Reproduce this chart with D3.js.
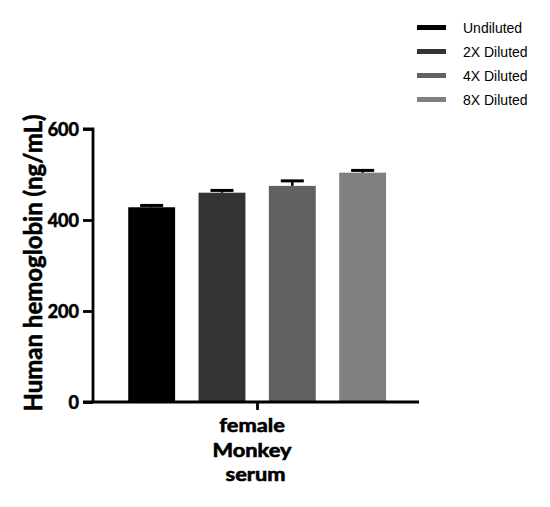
<!DOCTYPE html>
<html><head><meta charset="utf-8">
<script src="https://cdn.jsdelivr.net/npm/d3@7"></script>
<style>body{margin:0;background:#fff}svg{display:block}</style>
</head><body>
<script>
const series = ["Undiluted", "2X Diluted", "4X Diluted", "8X Diluted"];
const means = [428, 460, 475, 504];
const errors = [4, 5, 11, 5];
const colors = ["#000000", "#333333", "#616161", "#808080"];
const yTicks = [0, 200, 400, 600];
const categoryLines = ["female", "Monkey", "serum"];
const yLabel = "Human hemoglobin (ng/mL)";

(function () {
const W = 550, H = 507;
const svg = d3.select("body").append("svg").attr("width", W).attr("height", H);
const pLeft = 93, pRight = 419, pTop = 129, pBottom = 402;
const font = "Lato, 'DejaVu Sans', sans-serif";

const y = d3.scaleLinear().domain([0, 600]).range([pBottom, pTop]);
const x = d3.scaleBand().domain(series).range([116.5, 397.8]).paddingInner(1 / 3).paddingOuter(1 / 6);

const g = svg.append("g");
g.selectAll("rect.bar").data(series).join("rect")
  .attr("x", d => x(d)).attr("width", x.bandwidth())
  .attr("y", (d, i) => y(means[i])).attr("height", (d, i) => y(0) - y(means[i]))
  .attr("fill", (d, i) => colors[i]);

g.selectAll("line.err").data(series).join("line")
  .attr("x1", d => x(d) + x.bandwidth() / 2).attr("x2", d => x(d) + x.bandwidth() / 2)
  .attr("y1", (d, i) => y(means[i])).attr("y2", (d, i) => y(means[i] + errors[i]))
  .attr("stroke", "#000").attr("stroke-width", 2.5);
g.selectAll("line.cap").data(series).join("line")
  .attr("x1", d => x(d) + x.bandwidth() / 2 - 11.5).attr("x2", d => x(d) + x.bandwidth() / 2 + 11.5)
  .attr("y1", (d, i) => y(means[i] + errors[i])).attr("y2", (d, i) => y(means[i] + errors[i]))
  .attr("stroke", "#000").attr("stroke-width", 3);

const ya = svg.append("g").attr("transform", `translate(${pLeft},0)`)
  .call(d3.axisLeft(y).tickValues(yTicks).tickSize(10).tickPadding(4).tickFormat(d3.format("d")));
ya.select(".domain").attr("stroke-width", 2.8).attr("d", `M-10,${pTop}H0V${pBottom}`);
ya.selectAll(".tick line").attr("stroke-width", 2.8);
ya.selectAll(".tick text").attr("font-family", font).attr("font-weight", "bold").attr("font-size", 18)
  .attr("fill", "#000").attr("stroke", "#000").attr("stroke-width", 0.6).attr("dy", "0.35em");

const xs = d3.scalePoint().domain(["c"]).range([pLeft, pRight]).padding(0.5);
const xa = svg.append("g").attr("transform", `translate(0,${pBottom})`)
  .call(d3.axisBottom(xs).tickSize(8).tickFormat(""));
xa.select(".domain").attr("stroke-width", 2.8).attr("d", `M${pLeft - 10},0H${pRight}`);
xa.selectAll(".tick line").attr("stroke-width", 2.8).attr("transform", "translate(1,0)");

const cx = xs("c") - 4;
svg.append("text").attr("transform", `translate(${cx},0) scale(1.18,1)`).attr("text-anchor", "middle")
  .attr("font-family", font).attr("font-weight", "bold").attr("stroke", "#000").attr("stroke-width", 0.6)
  .attr("font-size", 18.5).selectAll("tspan").data(categoryLines).join("tspan")
  .attr("x", (d, i) => i === 2 ? 3 : 0).attr("y", (d, i) => [432, 457.5, 481][i]).text(d => d);

svg.append("text").attr("transform", `translate(42,263) rotate(-90)`).attr("text-anchor", "middle")
  .attr("font-family", font).attr("font-weight", "bold").attr("font-size", 24)
  .attr("stroke", "#000").attr("stroke-width", 0.6).text(yLabel);

const lg = svg.append("g");
const ly = d3.scalePoint().domain(series).range([27.5, 99.5]);
lg.selectAll("rect").data(series).join("rect")
  .attr("x", 417).attr("width", 29).attr("y", d => ly(d) - 2.5).attr("height", 5)
  .attr("fill", (d, i) => colors[i]);
lg.selectAll("text").data(series).join("text")
  .attr("x", 463).attr("y", d => ly(d) + 5).attr("font-family", "'Liberation Sans', Arial, sans-serif")
  .attr("font-size", 14).text(d => d);
})();
</script>
</body></html>
